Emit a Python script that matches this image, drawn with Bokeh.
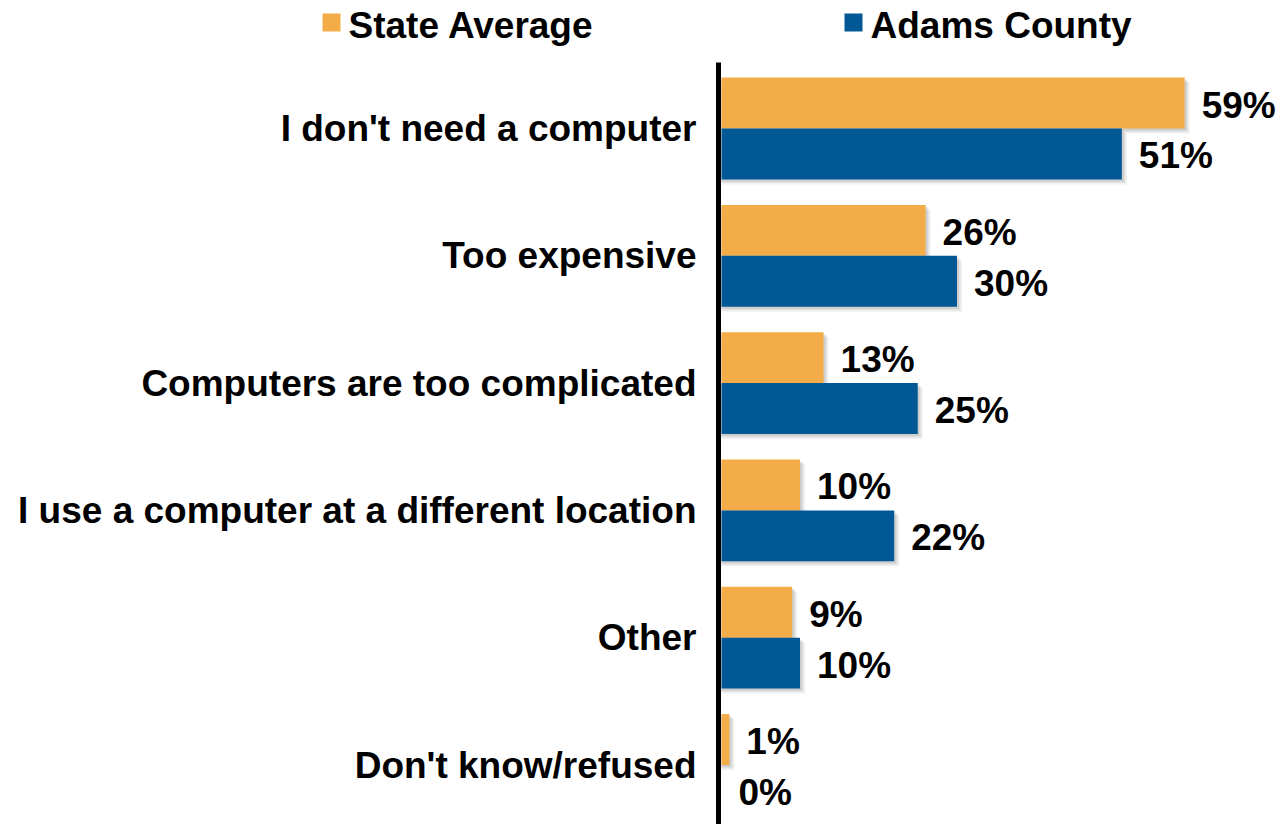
from bokeh.plotting import figure
from bokeh.models import Range1d, ColumnDataSource
from bokeh.core.properties import value
from bokeh.embed import file_html
from bokeh.resources import INLINE

categories = ["I don't need a computer", "Too expensive", "Computers are too complicated",
              "I use a computer at a different location", "Other", "Don't know/refused"]
state_avg = [59, 26, 13, 10, 9, 1]
adams = [51, 30, 25, 22, 10, 0]
series_names = ["State Average", "Adams County"]
colors = ["#F3AC47", "#025895"]

FONT = "Liberation Sans"
FS = "37px"

# layout (picture pixels -> data)
X0 = 721.0      # x of 0%
SX = 7.85       # px per percent
Y0 = 128.0      # y of first group centre
SY = 127.3      # px per group
W, H = 1282, 824

def xd(px):
    return (px - X0) / SX

def yd(py):
    return (py - Y0) / SY

p = figure(width=W, height=H, output_backend="svg", toolbar_location=None,
           x_range=Range1d(xd(0), xd(W)), y_range=Range1d(yd(H), yd(0)),
           min_border=0, x_axis_location=None, y_axis_location=None,
           outline_line_color=None, background_fill_color="white", border_fill_color="white")
p.xgrid.visible = False
p.ygrid.visible = False

n = len(categories)
bh = 0.40
idx = list(range(n))

for k, (vals, col) in enumerate([(state_avg, colors[0]), (adams, colors[1])]):
    centers = [i - 0.2 + 0.4 * k for i in idx]
    tops = [c - bh / 2 for c in centers]
    bottoms = [c + bh / 2 for c in centers]
    # soft shadow
    for off, a in [(5, 0.10), (3.5, 0.15), (2, 0.2)]:
        p.quad(left=[0] * n, right=[v + off / SX if v > 0 else 0 for v in vals],
               top=[t + off / SY for t in tops], bottom=[b + off / SY for b in bottoms],
               fill_color="#808080", fill_alpha=a, line_color=None)
    src = ColumnDataSource(dict(left=[0] * n, right=vals, top=tops, bottom=bottoms,
                                y=centers, lab=[f"{v}%" for v in vals]))
    p.quad(left="left", right="right", top="top", bottom="bottom", source=src,
           fill_color=col, line_color=None)
    p.text(x="right", y="y", text="lab", source=src, x_offset=17, y_offset=2,
           text_font=value(FONT), text_font_style="bold", text_font_size=FS,
           text_align="left", text_baseline="middle", text_color="black")

# category labels
p.text(x=[xd(X0 - 25)] * n, y=idx, text=categories,
       text_font=value(FONT), text_font_style="bold", text_font_size=FS,
       text_align="right", text_baseline="middle", text_color="black")

# vertical axis line
p.segment(x0=[xd(718)], x1=[xd(718)], y0=[yd(62)], y1=[yd(830)], line_color="black", line_width=5)

# legend
sq = [331, 853]
tx = [348, 870]
p.rect(x=[xd(s) for s in sq], y=[yd(22)] * 2, width=18, height=18,
       width_units="screen", height_units="screen", fill_color=colors, line_color=None)
p.text(x=[xd(t) for t in tx], y=[yd(25)] * 2, text=series_names,
       text_font=value(FONT), text_font_style="bold", text_font_size=FS,
       text_align="left", text_baseline="middle", text_color="black")

open("out.html", "w").write(file_html(p, INLINE))
